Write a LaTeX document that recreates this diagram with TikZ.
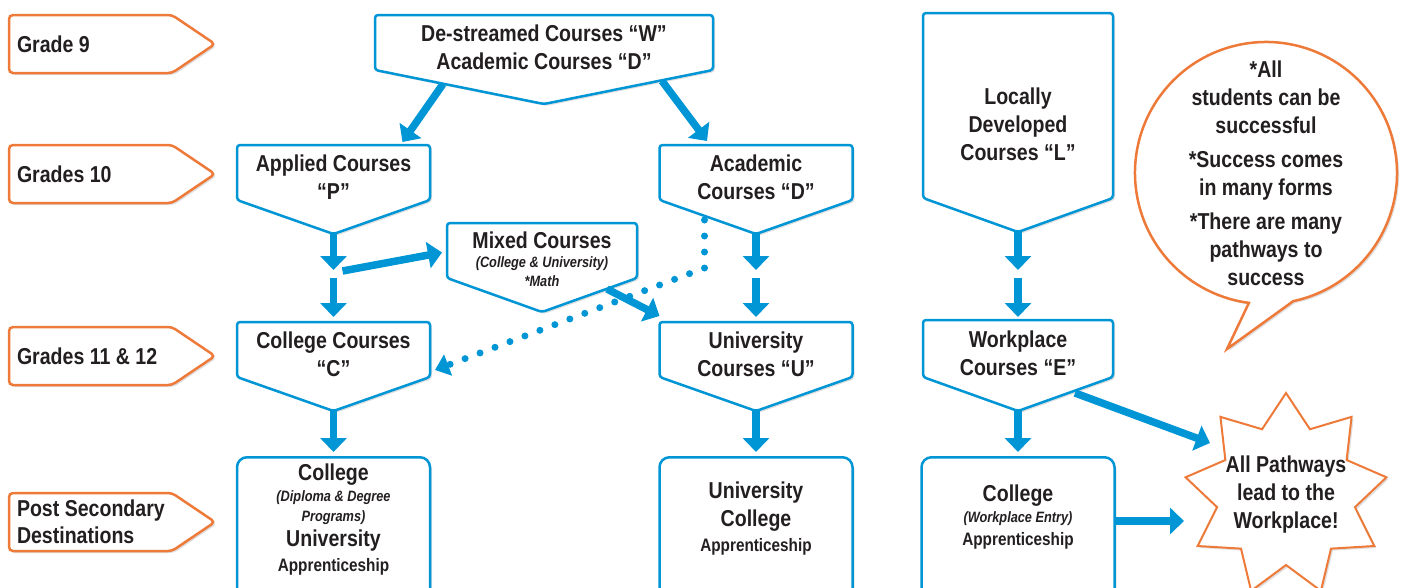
\documentclass[tikz,border=0pt]{standalone}
\usepackage{fontspec}
\setmainfont{Liberation Sans}[FakeStretch=0.85]
\usetikzlibrary{arrows.meta,calc,shadows,backgrounds}
\definecolor{pathblue}{RGB}{0,150,214}
\definecolor{gradeorange}{RGB}{238,122,58}
\definecolor{inkgray}{RGB}{35,31,32}
\newcommand{\bigtxt}{\fontsize{23}{28}\selectfont\bfseries}
\newcommand{\subtxt}{\fontsize{15}{19}\selectfont\bfseries\itshape}
\newcommand{\apptxt}{\fontsize{18}{22}\selectfont\bfseries}
\newcommand{\lift}{\rule{0pt}{26pt}}
\tikzstyle{grade} = [rectangle, anchor=west, minimum height=58pt, inner xsep=8pt, inner ysep=0pt, outer sep=0pt, align=left, font=\bigtxt, text=inkgray]
\tikzstyle{course} = [rectangle, minimum width=193pt, minimum height=55pt, inner sep=0pt, outer sep=0pt, align=center, font=\bigtxt, text=inkgray]
\tikzstyle{coursetext} = [align=center, inner sep=0pt, font=\bigtxt, text=inkgray]
\tikzstyle{dest} = [rectangle, rounded corners=10pt, draw=pathblue, line width=2.5pt, fill=white, minimum width=193pt, minimum height=170pt, anchor=north, drop shadow={opacity=0.25, shadow xshift=2pt, shadow yshift=-2pt}]
\tikzstyle{outline} = [draw=pathblue, line width=2.5pt, fill=white, rounded corners=3pt, drop shadow={opacity=0.25, shadow xshift=2pt, shadow yshift=-2pt}]
\tikzstyle{gradeline} = [draw=gradeorange, line width=2.5pt, fill=white, rounded corners=4pt, drop shadow={opacity=0.25, shadow xshift=2pt, shadow yshift=-2pt}]
\tikzstyle{bubbleline} = [draw=gradeorange, line width=2.5pt, fill=white, drop shadow={opacity=0.25, shadow xshift=2pt, shadow yshift=-2pt}]
\tikzstyle{burstline} = [draw=gradeorange, line width=2pt, fill=white, drop shadow={opacity=0.25, shadow xshift=2pt, shadow yshift=-2pt}]
\tikzstyle{bubble} = [circle, minimum size=262pt, inner sep=-12pt, outer sep=0pt, align=center, font=\bigtxt, text=inkgray]
\tikzstyle{burst} = [align=center, inner sep=0pt, font=\bigtxt, text=inkgray]
\tikzstyle{arrow} = [line width=7.5pt, pathblue, -{Triangle[width=26pt,length=14pt]}]
\tikzstyle{dotline} = [line width=7pt, pathblue, line cap=round, dash pattern=on 0pt off 16pt, -{Triangle[width=22pt,length=14pt]}]

\begin{document}
\begin{tikzpicture}[x=1pt, y=-1pt]
    \useasboundingbox (0,0) rectangle (1403,587);
    % Grade labels
    \node [grade] (g9) at (9,44) {Grade 9};
    \node [grade] (g10) at (9,174) {Grades 10};
    \node [grade] (g1112) at (9,356) {Grades 11 \& 12};
    \node [grade] (gpost) at (9,522) {Post Secondary\\[-1pt]Destinations};

    % Course boxes
    \node [course, minimum width=338pt] (destream) at (544,42.5) {\lift De-streamed Courses “W”\\Academic Courses “D”};
    \node [course] (applied) at (333.5,172.5) {\lift Applied Courses\\“P”};
    \node [course] (academic) at (756,172.5) {\lift Academic\\Courses “D”};
    \node [course, minimum width=190pt] (mixed) at (542,250.5) {};
    \node [coursetext] (mixedtxt) at (542,259) {Mixed Courses\\[-9pt]{\subtxt (College \& University)}\\[-9pt]{\subtxt *Math}};
    \node [course] (college) at (333.5,349.5) {\lift College Courses\\“C”};
    \node [course] (university) at (756,349.5) {\lift University\\Courses “U”};
    \node [course, minimum width=190pt, minimum height=185pt] (local) at (1018,105.5) {};
    \node [coursetext] (localtxt) at (1018,124) {Locally\\Developed\\Courses “L”};
    \node [course, minimum width=190pt, minimum height=57pt] (workplace) at (1018,348.5) {\lift Workplace\\Courses “E”};

    % Destinations
    \node [dest] (dcollege) at (333.5,456) {};
    \node [coursetext] (dcollegetxt) at (333.5,520) {College\\[-7pt]{\subtxt (Diploma \& Degree}\\[-8pt]{\subtxt Programs)}\\[-3pt]University\\[-3pt]{\apptxt Apprenticeship}};
    \node [dest] (duni) at (756,456) {};
    \node [coursetext] (dunitxt) at (756,519) {University\\College\\[-3pt]{\apptxt Apprenticeship}};
    \node [dest] (dwork) at (1018,456) {};
    \node [coursetext] (dworktxt) at (1018,517.5) {College\\[-7pt]{\subtxt (Workplace Entry)}\\[-5pt]{\apptxt Apprenticeship}};

    % Bubble and star
    \node [bubble] (bubble) at (1266,173) {*All\\students can be\\successful\\[6pt]*Success comes\\in many forms\\[6pt]*There are many\\pathways to\\success};
    \coordinate (tailtip) at (1227,349);
    \node [burst] (burst) at (1286,495) {All Pathways\\lead to the\\Workplace!};

    \begin{scope}[on background layer]
        \foreach \n in {destream,applied,academic,mixed,college,university,local,workplace}
            \draw [outline] ($(\n.south)+(0,34)$) -- (\n.south west) -- (\n.north west) -- (\n.north east) -- (\n.south east) -- cycle;
        \foreach \n in {g9,g10,g1112,gpost}
            \draw [gradeline] (\n.south west) -- (\n.north west) -- ++(163,0) -- ++(43,29) -- ++(-43,29) -- cycle;
        \draw [bubbleline] (tailtip) -- (bubble.-78) arc[start angle=-78, end angle=262.5, radius=131pt] -- cycle;
        \draw [burstline] ($(burst)+(90:102pt)$)
            \foreach \k [evaluate=\k as \r using {mod(\k,2)==0 ? 102 : 70}] in {1,...,17} { -- ($(burst)+({90+20*\k}:\r pt)$) } -- cycle;
    \end{scope}

    % Arrows
    \draw [arrow] ($(destream.south west)+(68,14)$) -- ($(applied.north)+(69,-3)$);
    \draw [arrow] ($(destream.south east)+(-51,11)$) -- ($(academic.north)+(-49,-4)$);
    \draw [arrow] ($(applied.south)+(0,33)$) -- ($(college.north)+(0,-52)$);
    \draw [arrow] ($(college.north)+(0,-44)$) -- ($(college.north)+(0,-5)$);
    \draw [arrow] ($(college.north)+(9,-51)$) -- ($(mixed.west)+(-5,2)$);
    \draw [arrow] ($(academic.south)+(0,33)$) -- ($(university.north)+(0,-52)$);
    \draw [arrow] ($(university.north)+(0,-44)$) -- ($(university.north)+(0,-5)$);
    \draw [arrow] ($(mixed.south east)+(-30,11)$) -- ($(university.north west)+(0,-6)$);
    \draw [arrow] ($(college.south)+(0,33)$) -- ($(dcollege.north)+(0,-4)$);
    \draw [arrow] ($(university.south)+(0,33)$) -- ($(duni.north)+(0,-4)$);
    \draw [arrow] ($(local.south)+(0,34)$) -- ($(workplace.north)+(0,-50)$);
    \draw [arrow] ($(workplace.north)+(0,-42)$) -- ($(workplace.north)+(0,-3)$);
    \draw [arrow] ($(workplace.south)+(0,33)$) -- ($(dwork.north)+(0,-4)$);
    \draw [arrow] ($(workplace.south east)+(-38,16)$) -- ($(burst)+(-76,-52)$);
    \draw [arrow] ($(dwork.north east)+(0,65)$) -- ($(burst)+(-102,26)$);
    \draw [dotline] ($(academic.south west)+(45,20)$) -- ($(academic.south west)+(45,68)$) -- ($(college.south east)+(5,-7)$);

\end{tikzpicture}
\end{document}
